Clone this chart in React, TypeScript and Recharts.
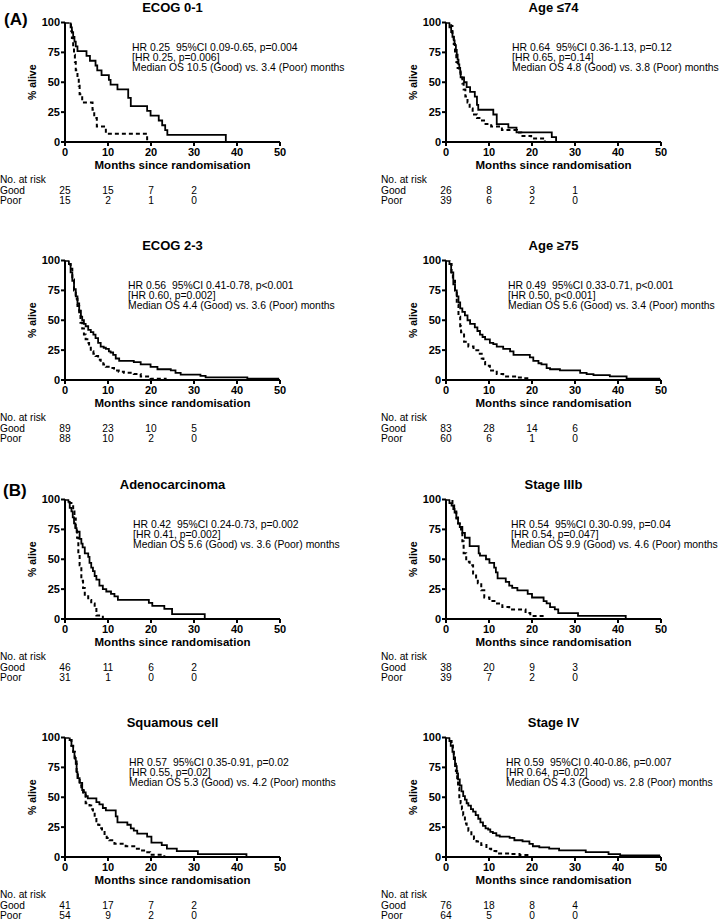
import React from 'react';
import { LineChart, Line, XAxis, YAxis } from 'recharts';

type Pt = [number, number];

const xTicks = [0, 10, 20, 30, 40, 50];
const yTicks = [0, 25, 50, 75, 100];
const riskMonths = [0, 10, 20, 30];

// ---------- ECOG 0-1 ----------
const ecog01Good: Pt[] = [[0,100],[1.3,96],[1.6,92],[1.9,88],[2.2,84],[2.5,80],[2.9,76],[5.0,72],[5.8,68],[7.1,64],[7.5,60],[8.5,56],[10.2,52],[10.6,48],[12.2,44],[14.7,37],[15.3,30],[19.1,26],[19.9,22],[21.8,18],[22.6,14],[23.3,10],[23.8,6],[37.4,0]];
const ecog01Poor: Pt[] = [[0,100],[1.4,93],[1.6,87],[1.9,80],[2.1,73],[2.3,67],[2.5,60],[2.9,53],[3.2,47],[3.4,40],[4.0,33],[6.4,27],[6.8,20],[7.4,13],[9.5,7],[19.1,0]];
const ecog01Notes = ['HR 0.25  95%CI 0.09-0.65, p=0.004', '[HR 0.25, p=0.006]', 'Median OS 10.5 (Good) vs. 3.4 (Poor) months'];
const ecog01RiskGood = [25, 15, 7, 2];
const ecog01RiskPoor = [15, 2, 1, 0];

// ---------- Age <=74 ----------
const age74Good: Pt[] = [[0,100],[0.8,96],[1.2,92],[1.5,88],[1.8,85],[2.0,81],[2.3,77],[2.5,73],[2.7,69],[2.9,65],[3.1,62],[3.3,58],[3.4,54],[4.2,50],[4.8,46],[5.6,42],[6.7,38],[7.2,31],[7.5,27],[11.0,23],[11.8,15],[14.5,12],[16.4,8],[24.6,4],[25.6,0]];
const age74Poor: Pt[] = [[0,100],[1.2,97],[1.5,90],[1.8,82],[2.1,74],[2.4,67],[2.7,62],[3.0,59],[3.4,54],[3.8,49],[4.1,44],[4.5,38],[5.0,33],[5.5,28],[6.2,23],[7.2,20],[8.0,18],[9.2,15],[10.5,13],[13.0,10],[16.5,8],[17.5,5],[19.8,3],[23.0,0]];
const age74Notes = ['HR 0.64  95%CI 0.36-1.13, p=0.12', '[HR 0.65, p=0.14]', 'Median OS 4.8 (Good) vs. 3.8 (Poor) months'];
const age74RiskGood = [26, 8, 3, 1];
const age74RiskPoor = [39, 6, 2, 0];

// ---------- ECOG 2-3 ----------
const ecog23Good: Pt[] = [[0,100],[0.9,97],[1.3,90],[1.7,83],[2.1,76],[2.5,70],[2.9,64],[3.3,58],[3.7,53],[4.0,50],[4.4,47],[4.8,45],[5.4,42],[6.0,40],[6.6,38],[7.1,35],[7.7,31],[8.3,28],[9.0,27],[9.5,26],[10.2,24],[10.6,23],[11.2,21],[11.8,18],[12.6,16],[16.0,15],[17.6,13],[19.9,11],[21.5,9],[24.6,8],[25.7,6],[26.9,4.5],[31.5,3.4],[32.7,2.2],[42.4,1.1],[49.8,1.1]];
const ecog23Poor: Pt[] = [[0,100],[1.0,97],[1.3,93],[1.7,84],[2.1,75],[2.5,68],[2.9,62],[3.3,55],[3.6,48],[4.0,43],[4.4,38],[4.8,34],[5.2,31],[5.6,27],[6.0,24],[6.6,22],[7.1,20],[7.7,17],[8.3,15],[8.9,13],[9.5,11],[10.4,10],[11.4,8],[12.5,7],[13.7,6],[16.0,5],[17.6,3],[19.9,1.1],[23.4,0]];
const ecog23Notes = ['HR 0.56  95%CI 0.41-0.78, p<0.001', '[HR 0.60, p=0.002]', 'Median OS 4.4 (Good) vs. 3.6 (Poor) months'];
const ecog23RiskGood = [89, 23, 10, 5];
const ecog23RiskPoor = [88, 10, 2, 0];

// ---------- Age >=75 ----------
const age75Good: Pt[] = [[0,100],[0.8,97],[1.2,90],[1.7,80],[2.1,75],[2.5,70],[2.9,65],[3.3,60],[3.8,57],[4.4,54],[5.0,50],[5.6,47],[6.7,44],[7.3,41],[7.9,38],[8.5,36],[9.1,34],[10.2,31],[11.0,30],[11.8,28],[13.3,26],[14.9,24],[15.7,21],[19.5,19],[20.3,16],[21.5,14],[22.2,13],[23.4,10],[24.2,9],[26.5,8],[31.2,6],[32.7,5],[34.3,4],[38.1,3],[42.0,1.2],[49.8,1.2]];
const age75Poor: Pt[] = [[0,100],[0.9,97],[1.3,90],[1.6,83],[2.1,75],[2.5,63],[2.9,53],[3.3,45],[3.5,40],[4.2,32],[5.2,28],[6.4,25],[7.5,22],[8.3,18],[8.7,15],[9.1,12],[10.2,8],[11.8,5],[13.3,3],[16.4,2],[18.0,1.5],[19.5,0]];
const age75Notes = ['HR 0.49  95%CI 0.33-0.71, p<0.001', '[HR 0.50, p<0.001]', 'Median OS 5.6 (Good) vs. 3.4 (Poor) months'];
const age75RiskGood = [83, 28, 14, 6];
const age75RiskPoor = [60, 6, 1, 0];

// ---------- Adenocarcinoma ----------
const adenoGood: Pt[] = [[0,100],[0.8,98],[1.1,93],[1.5,90],[1.8,85],[2.1,80],[2.4,76],[2.7,73],[3.4,67],[3.8,63],[4.1,60],[4.6,55],[5.4,52],[5.7,47],[6.1,43],[6.5,40],[6.9,36],[7.3,33],[8.0,28],[8.8,25],[9.6,23],[10.7,21],[11.5,19],[12.3,16],[19.5,13.5],[20.3,11],[23.1,8.5],[24.9,4],[32.5,0]];
const adenoPoor: Pt[] = [[0,100],[1.1,97],[1.9,90],[2.2,84],[2.5,77],[2.8,68],[3.1,55],[3.4,45],[3.8,32],[4.2,26],[4.6,19],[5.4,16],[6.1,13],[6.9,10],[7.3,3],[8.8,0]];
const adenoNotes = ['HR 0.42  95%CI 0.24-0.73, p=0.002', '[HR 0.41, p=0.002]', 'Median OS 5.6 (Good) vs. 3.6 (Poor) months'];
const adenoRiskGood = [46, 11, 6, 2];
const adenoRiskPoor = [31, 1, 0, 0];

// ---------- Stage IIIb ----------
const s3bGood: Pt[] = [[0,100],[0.8,97],[1.3,95],[1.7,92],[2.0,89],[2.4,84],[2.8,80],[3.2,77],[3.8,72],[4.4,68],[5.5,61],[7.6,55],[7.9,53],[9.3,50],[10.1,47],[11.2,43],[11.6,39],[12.0,34],[13.9,31],[14.7,28],[15.4,26],[16.6,24],[19.0,21],[20.0,18],[22.7,15],[23.4,13],[24.2,10],[25.3,8],[26.1,5],[30.7,2.6],[41.8,0]];
const s3bPoor: Pt[] = [[0,100],[1.5,95],[1.9,90],[2.4,85],[2.8,80],[3.2,77],[3.5,72],[3.8,65],[4.1,55],[4.7,48],[5.5,45],[6.3,38],[7.0,33],[7.4,30],[8.2,24],[8.9,18],[10.1,15],[11.6,13],[13.1,10],[14.7,8],[18.5,5],[19.6,2.6],[22.9,0]];
const s3bNotes = ['HR 0.54  95%CI 0.30-0.99, p=0.04', '[HR 0.54, p=0.047]', 'Median OS 9.9 (Good) vs. 4.6 (Poor) months'];
const s3bRiskGood = [38, 20, 9, 3];
const s3bRiskPoor = [39, 7, 2, 0];

// ---------- Squamous cell ----------
const squamGood: Pt[] = [[0,100],[1.1,98],[1.5,93],[1.9,88],[2.2,83],[2.5,78],[2.7,71],[2.9,66],[3.4,62],[4.0,56],[4.4,54],[4.8,51],[5.3,49],[7.3,46],[8.0,44],[8.8,41],[9.5,39],[11.8,34],[12.2,29],[14.5,27],[15.3,24],[16.0,22],[16.8,19.5],[19.1,17],[20.1,12],[22.5,10],[23.7,7],[26.0,5],[30.9,2.4],[42.2,0]];
const squamPoor: Pt[] = [[0,100],[1.1,98],[1.5,93],[1.9,88],[2.3,80],[2.7,72],[3.0,66],[3.4,60],[3.8,56],[4.2,52],[4.8,45],[5.7,43],[6.1,40],[6.5,37],[6.9,33],[7.3,30],[7.7,27],[8.0,24],[8.6,21],[9.2,18],[9.7,16],[10.3,14],[11.5,11],[14.1,9],[16.4,7],[17.6,5.5],[18.7,4],[19.8,1.8],[23.1,0]];
const squamNotes = ['HR 0.57  95%CI 0.35-0.91, p=0.02', '[HR 0.55, p=0.02]', 'Median OS 5.3 (Good) vs. 4.2 (Poor) months'];
const squamRiskGood = [41, 17, 7, 2];
const squamRiskPoor = [54, 9, 2, 0];

// ---------- Stage IV ----------
const s4Good: Pt[] = [[0,100],[0.8,97],[1.1,93],[1.5,88],[1.8,82],[2.1,76],[2.5,70],[2.8,65],[3.2,60],[3.6,55],[4.0,51],[4.4,48],[4.8,45],[5.2,43],[5.8,40],[6.3,38],[6.9,35],[7.5,32],[8.0,29],[8.6,26],[9.2,24],[9.8,23],[10.3,21],[10.9,20],[11.7,18],[12.5,17],[14.8,16],[15.9,14],[17.8,13],[19.4,11],[20.2,9],[21.7,8],[24.0,7],[26.3,5.5],[32.5,4],[37.8,2.4],[40.5,1.3],[49.8,1.3]];
const s4Poor: Pt[] = [[0,100],[1.0,97],[1.3,95],[1.6,89],[1.8,85],[2.1,78],[2.3,72],[2.6,64],[2.8,58],[3.1,50],[3.4,45],[3.7,40],[4.0,35],[4.4,28],[4.8,25],[5.2,22],[5.9,18],[6.5,15],[7.1,13],[8.2,10],[9.4,7],[10.5,5],[11.7,3],[14.8,2.5],[17.1,1.6],[19.4,0]];
const s4Notes = ['HR 0.59  95%CI 0.40-0.86, p=0.007', '[HR 0.64, p=0.02]', 'Median OS 4.3 (Good) vs. 2.8 (Poor) months'];
const s4RiskGood = [76, 18, 8, 4];
const s4RiskPoor = [64, 5, 0, 0];

// ---------- layout ----------
const FONT = 'Arial, "Liberation Sans", Helvetica, sans-serif';
const PLOT_L = 65;
const PLOT_T = 22.5;
const PLOT_W = 215;
const PLOT_H = 119.5;
const CH_W = 300;
const CH_H = 162;

type PanelDef = {
  ox: number; oy: number; title: string; good: Pt[]; poor: Pt[];
  notes: string[]; noteX: number; riskGood: number[]; riskPoor: number[];
};

const panels: PanelDef[] = [
  { ox: 0, oy: 0, title: 'ECOG 0-1', good: ecog01Good, poor: ecog01Poor, notes: ecog01Notes, noteX: 132, riskGood: ecog01RiskGood, riskPoor: ecog01RiskPoor },
  { ox: 381, oy: 0, title: 'Age \u226474', good: age74Good, poor: age74Poor, notes: age74Notes, noteX: 131, riskGood: age74RiskGood, riskPoor: age74RiskPoor },
  { ox: 0, oy: 238, title: 'ECOG 2-3', good: ecog23Good, poor: ecog23Poor, notes: ecog23Notes, noteX: 128, riskGood: ecog23RiskGood, riskPoor: ecog23RiskPoor },
  { ox: 381, oy: 238, title: 'Age \u226575', good: age75Good, poor: age75Poor, notes: age75Notes, noteX: 127, riskGood: age75RiskGood, riskPoor: age75RiskPoor },
  { ox: 0, oy: 477, title: 'Adenocarcinoma', good: adenoGood, poor: adenoPoor, notes: adenoNotes, noteX: 133, riskGood: adenoRiskGood, riskPoor: adenoRiskPoor },
  { ox: 381, oy: 477, title: 'Stage IIIb', good: s3bGood, poor: s3bPoor, notes: s3bNotes, noteX: 130, riskGood: s3bRiskGood, riskPoor: s3bRiskPoor },
  { ox: 0, oy: 715, title: 'Squamous cell', good: squamGood, poor: squamPoor, notes: squamNotes, noteX: 129, riskGood: squamRiskGood, riskPoor: squamRiskPoor },
  { ox: 381, oy: 715, title: 'Stage IV', good: s4Good, poor: s4Poor, notes: s4Notes, noteX: 125, riskGood: s4RiskGood, riskPoor: s4RiskPoor },
];

const toRows = (a: Pt[]) => a.map(([m, s]) => ({ m, s }));
const riskX = (m: number) => PLOT_L + (m / 50) * PLOT_W;

function Panel(p: PanelDef) {
  const tickStyle = { fill: '#000', fontSize: 11, fontWeight: 700, fontFamily: FONT };
  const axisStroke = { stroke: '#000', strokeWidth: 2 };
  return (
    <div style={{ position: 'absolute', left: p.ox, top: p.oy, width: 340, height: 238 }}>
      <div style={{ position: 'absolute', left: 0, top: 0 }}>
        <LineChart
          width={CH_W}
          height={CH_H}
          margin={{ top: PLOT_T, right: CH_W - PLOT_L - PLOT_W, bottom: 0, left: 0 }}
        >
          <XAxis
            type="number"
            dataKey="m"
            domain={[0, 50]}
            ticks={xTicks}
            interval={0}
            allowDataOverflow
            height={CH_H - PLOT_T - PLOT_H}
            tickSize={4}
            tickMargin={2}
            axisLine={axisStroke}
            tickLine={axisStroke}
            tick={tickStyle}
          />
          <YAxis
            type="number"
            domain={[0, 100]}
            ticks={yTicks}
            interval={0}
            allowDataOverflow
            width={PLOT_L}
            tickSize={4}
            tickMargin={1}
            axisLine={axisStroke}
            tickLine={axisStroke}
            tick={tickStyle}
          />
          <Line data={toRows(p.good)} dataKey="s" type="stepAfter" stroke="#000" strokeWidth={1.8} dot={false} activeDot={false} isAnimationActive={false} />
          <Line data={toRows(p.poor)} dataKey="s" type="stepAfter" stroke="#000" strokeWidth={2} strokeDasharray="4 3" dot={false} activeDot={false} isAnimationActive={false} />
        </LineChart>
      </div>
      <svg width={340} height={238} style={{ position: 'absolute', left: 0, top: 0, overflow: 'visible', pointerEvents: 'none' }} fontFamily={FONT}>
        <text x={PLOT_L + PLOT_W / 2} y={12} textAnchor="middle" fontSize={13} fontWeight={700} fill="#000">{p.title}</text>
        <text x={31.5} y={PLOT_T + PLOT_H / 2} transform={`rotate(-90 31.5 ${PLOT_T + PLOT_H / 2})`} textAnchor="middle" dominantBaseline="central" fontSize={10.5} fontWeight={700} fill="#000">% alive</text>
        <text x={PLOT_L + PLOT_W / 2} y={PLOT_T + PLOT_H + 23} textAnchor="middle" dominantBaseline="central" fontSize={11.5} fontWeight={700} fill="#000">Months since randomisation</text>
        {p.notes.map((n, i) => (
          <text key={i} x={p.noteX} y={47.5 + i * 9.8} dominantBaseline="central" fontSize={10.4} fill="#000" xmlSpace="preserve" style={{ whiteSpace: 'pre' }}>{n}</text>
        ))}
        <text x={0} y={179.5} dominantBaseline="central" fontSize={10.2} fill="#000">No. at risk</text>
        <text x={0} y={190} dominantBaseline="central" fontSize={10.2} fill="#000">Good</text>
        <text x={0} y={200} dominantBaseline="central" fontSize={10.2} fill="#000">Poor</text>
        {riskMonths.map((m, i) => (
          <text key={'g' + i} x={riskX(m)} y={190} textAnchor="middle" dominantBaseline="central" fontSize={10.2} fill="#000">{p.riskGood[i]}</text>
        ))}
        {riskMonths.map((m, i) => (
          <text key={'p' + i} x={riskX(m)} y={200} textAnchor="middle" dominantBaseline="central" fontSize={10.2} fill="#000">{p.riskPoor[i]}</text>
        ))}
      </svg>
    </div>
  );
}

export default function App() {
  return (
    <div style={{ position: 'absolute', left: 0, top: 0, width: 721, height: 920, background: '#fff', overflow: 'hidden', fontFamily: FONT }}>
      {panels.map((p, i) => <Panel key={i} {...p} />)}
      <svg width={721} height={920} style={{ position: 'absolute', left: 0, top: 0, pointerEvents: 'none' }} fontFamily={FONT}>
        <text x={4} y={19} dominantBaseline="central" fontSize={17} fontWeight={700} fill="#000">(A)</text>
        <text x={3} y={490} dominantBaseline="central" fontSize={17} fontWeight={700} fill="#000">(B)</text>
      </svg>
    </div>
  );
}
